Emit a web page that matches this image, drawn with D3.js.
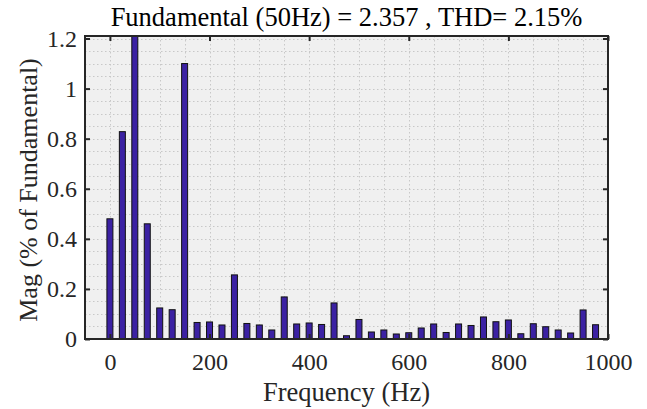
<!DOCTYPE html>
<html>
<head>
<meta charset="utf-8">
<script src="https://cdn.jsdelivr.net/npm/d3@7/dist/d3.min.js"></script>
<style>
  html, body { margin: 0; padding: 0; background: #ffffff; }
  svg { display: block; }
</style>
</head>
<body>
<svg id="chart" width="647" height="409"></svg>
<script>
// ---- data ----
const frequencies = d3.range(0, 1000, 25); // harmonic bins (Hz)
const magnitudes = [
  0.480, 0.828, 100.0, 0.460, 0.124, 0.117, 1.100, 0.066, 0.068, 0.056,
  0.256, 0.062, 0.056, 0.036, 0.168, 0.060, 0.064, 0.058, 0.144, 0.013,
  0.078, 0.028, 0.036, 0.020, 0.025, 0.044, 0.060, 0.026, 0.060, 0.054,
  0.088, 0.069, 0.076, 0.021, 0.061, 0.049, 0.036, 0.024, 0.116, 0.057
];
const xTicks = [0, 200, 400, 600, 800, 1000];
const yTicks = [0, 0.2, 0.4, 0.6, 0.8, 1, 1.2];
const titleText = "Fundamental (50Hz) = 2.357 , THD= 2.15%";
const xLabel = "Frequency (Hz)";
const yLabel = "Mag (% of Fundamental)";

// ---- layout ----
const svg = d3.select("#chart");
const m = { left: 85, right: 608, top: 36, bottom: 339 };
const font = "'Liberation Serif', 'Times New Roman', serif";
const ink = "#262626";

const x = d3.scaleLinear().domain([-50, 1000]).range([m.left, m.right]);
const y = d3.scaleLinear().domain([0, 1.21]).range([m.bottom, m.top]);

// plot background
svg.append("rect")
  .attr("x", m.left).attr("y", m.top)
  .attr("width", m.right - m.left).attr("height", m.bottom - m.top)
  .attr("fill", "#f0f0f0");

// grid (major+minor, dotted)
const gridX = d3.range(0, 1000, 50);
const gridY = d3.range(1, 25).map(i => i * 0.05);
const grid = svg.append("g").attr("stroke", "#c8c8c8").attr("stroke-width", 1)
  .attr("stroke-dasharray", "1.5,2.5");
grid.selectAll("line.gx").data(gridX).join("line")
  .attr("x1", d => Math.round(x(d)) + 0.5).attr("x2", d => Math.round(x(d)) + 0.5)
  .attr("y1", m.top).attr("y2", m.bottom);
grid.selectAll("line.gy").data(gridY).join("line")
  .attr("y1", d => Math.round(y(d)) + 0.5).attr("y2", d => Math.round(y(d)) + 0.5)
  .attr("x1", m.left).attr("x2", m.right);

// clip
svg.append("clipPath").attr("id", "plotclip").append("rect")
  .attr("x", m.left).attr("y", m.top)
  .attr("width", m.right - m.left).attr("height", m.bottom - m.top);

// bars
const bw = 6;
svg.append("g").attr("clip-path", "url(#plotclip)")
  .selectAll("rect").data(frequencies.map((f, i) => ({ f, v: magnitudes[i] })))
  .join("rect")
  .attr("x", d => x(d.f) - bw / 2)
  .attr("y", d => y(d.v))
  .attr("width", bw)
  .attr("height", d => Math.max(0, y(0) - y(d.v)))
  .attr("fill", "#3b21a3")
  .attr("stroke", "#111111")
  .attr("stroke-width", 1);

// axes (box with inward ticks)
const fmt = d => d3.format("~g")(d);
const axB = d3.axisBottom(x).tickValues(xTicks).tickSizeInner(-5).tickSizeOuter(0).tickPadding(14).tickFormat(d => String(d));
const axT = d3.axisTop(x).tickValues(xTicks).tickSizeInner(-5).tickSizeOuter(0).tickFormat("");
const axL = d3.axisLeft(y).tickValues(yTicks).tickSizeInner(-5).tickSizeOuter(0).tickPadding(8).tickFormat(fmt);
const axR = d3.axisRight(y).tickValues(yTicks).tickSizeInner(-5).tickSizeOuter(0).tickFormat("");

function styleAxis(g) {
  g.select(".domain").remove();
  g.selectAll(".tick line").attr("stroke", ink).attr("stroke-width", 2);
  g.selectAll(".tick text").attr("fill", ink).style("font-family", font).style("font-size", "24px");
}
svg.append("g").attr("transform", `translate(0,${m.bottom})`).call(axB).call(styleAxis);
svg.append("g").attr("transform", `translate(0,${m.top})`).call(axT).call(styleAxis);
svg.append("g").attr("transform", `translate(${m.left},0)`).call(axL).call(styleAxis);
svg.append("g").attr("transform", `translate(${m.right},0)`).call(axR).call(styleAxis);

// box
svg.append("rect")
  .attr("x", m.left).attr("y", m.top)
  .attr("width", m.right - m.left).attr("height", m.bottom - m.top)
  .attr("fill", "none").attr("stroke", ink).attr("stroke-width", 2);

// title and labels
svg.append("text")
  .attr("x", (m.left + m.right) / 2).attr("y", 26)
  .attr("text-anchor", "middle").attr("fill", "#000")
  .style("font-family", font).style("font-size", "26.5px")
  .text(titleText);
svg.append("text")
  .attr("x", (m.left + m.right) / 2).attr("y", 401)
  .attr("text-anchor", "middle").attr("fill", ink)
  .style("font-family", font).style("font-size", "26.5px")
  .text(xLabel);
svg.append("text")
  .attr("transform", `translate(37,190) rotate(-90)`)
  .attr("text-anchor", "middle").attr("fill", ink)
  .style("font-family", font).style("font-size", "26px")
  .text(yLabel);
</script>
</body>
</html>
